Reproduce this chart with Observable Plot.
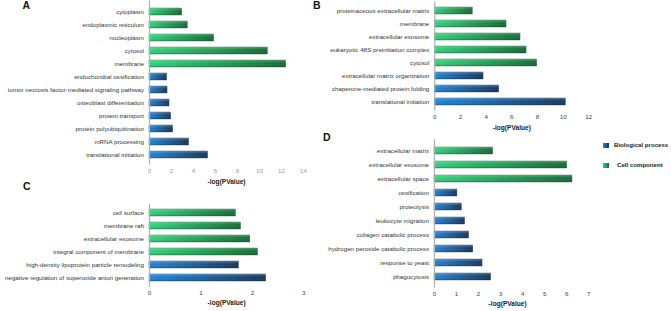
<!DOCTYPE html>
<html><head><meta charset="utf-8">
<script src="https://cdn.jsdelivr.net/npm/d3@7"></script>
<script src="https://cdn.jsdelivr.net/npm/@observablehq/plot@0.6"></script>
<style>
body{margin:0;background:#fff;font-family:"Liberation Sans",Arial,sans-serif;}
#root{position:relative;width:671px;height:311px;overflow:hidden;background:#fff;}
.panel{position:absolute;}
.letter{position:absolute;font-weight:bold;font-size:10.5px;line-height:1;color:#111;}
.leg{position:absolute;font-weight:bold;font-size:6.1px;line-height:8px;color:#222;white-space:nowrap;}
.sw{position:absolute;width:5.5px;height:5.5px;}
</style></head><body><div id="root"></div>
<script>
// ---------- data ----------
const aTerms = ["cytoplasm","endoplasmic reticulum","nucleoplasm","cytosol","membrane","endochondral ossification","tumor necrosis factor-mediated signaling pathway","osteoblast differentiation","protein transport","protein polyubiquitination","mRNA processing","translational initiation"];
const aValues = [2.97, 3.48, 5.88, 10.76, 12.42, 1.6, 1.64, 1.82, 1.97, 2.15, 3.6, 5.33];
const aTypes = ["CC","CC","CC","CC","CC","BP","BP","BP","BP","BP","BP","BP"];
const aTicks = [0,2,4,6,8,10,12,14];

const bTerms = ["proteinaceous extracellular matrix","membrane","extracellular exosome","eukaryotic 48S preinitiation complex","cytosol","extracellular matrix organization","chaperone-mediated protein folding","translational initiation"];
const bValues = [2.96, 5.59, 6.68, 7.15, 7.98, 3.8, 5.02, 10.21];
const bTypes = ["CC","CC","CC","CC","CC","BP","BP","BP"];
const bTicks = [0,2,4,6,8,10,12];

const cTerms = ["cell surface","membrane raft","extracellular exosome","integral component of membrane","high-density lipoprotein particle remodeling","negative regulation of superoxide anion generation"];
const cValues = [1.68, 1.78, 1.96, 2.11, 1.74, 2.27];
const cTypes = ["CC","CC","CC","CC","BP","BP"];
const cTicks = [0,1,2,3];

const dTerms = ["extracellular matrix","extracellular exosome","extracellular space","ossification","proteolysis","leukocyte migration","collagen catabolic process","hydrogen peroxide catabolic process","response to yeast","phagocytosis"];
const dValues = [2.66, 6.02, 6.26, 1.04, 1.24, 1.39, 1.57, 1.76, 2.18, 2.57];
const dTypes = ["CC","CC","CC","BP","BP","BP","BP","BP","BP","BP"];
const dTicks = [0,1,2,3,4,5,6,7];

const legendLabels = {BP: "Biological process", CC: "Cell component"};
const axisLabel = "-log(PValue)";

// ---------- drawing ----------
const root = document.getElementById("root");

function defsMark(id) {
  return () => {
    const defs = d3.create("svg:defs");
    const g1 = defs.append("linearGradient").attr("id", "bp-" + id).attr("x1", 0).attr("x2", 1).attr("y1", 0).attr("y2", 0);
    g1.append("stop").attr("offset", "0%").attr("stop-color", "#1f84da");
    g1.append("stop").attr("offset", "100%").attr("stop-color", "#16365a");
    const g2 = defs.append("linearGradient").attr("id", "cc-" + id).attr("x1", 0).attr("x2", 1).attr("y1", 0).attr("y2", 0);
    g2.append("stop").attr("offset", "0%").attr("stop-color", "#2fd47c");
    g2.append("stop").attr("offset", "100%").attr("stop-color", "#166a34");
    const g3 = defs.append("linearGradient").attr("id", "sh-" + id).attr("x1", 0).attr("x2", 0).attr("y1", 0).attr("y2", 1);
    g3.append("stop").attr("offset", "0%").attr("stop-color", "#fff").attr("stop-opacity", 0.25);
    g3.append("stop").attr("offset", "45%").attr("stop-color", "#fff").attr("stop-opacity", 0);
    g3.append("stop").attr("offset", "100%").attr("stop-color", "#000").attr("stop-opacity", 0.18);
    return defs.node();
  };
}

function panel(o) {
  const data = o.terms.map((t, i) => ({term: t, value: o.values[i], type: o.types[i]}));
  const chart = Plot.plot({
    width: o.width, height: o.height,
    marginLeft: o.ml, marginRight: o.mr, marginTop: o.mt, marginBottom: o.mb,
    style: {background: "transparent", overflow: "visible", fontFamily: "'Liberation Sans', Arial, sans-serif", fontSize: "6.2px", color: "#333"},
    x: {domain: [0, o.max], label: null},
    y: {domain: o.terms, paddingInner: 0.48, paddingOuter: 0.24, label: null},
    marks: [
      defsMark(o.id),
      Plot.barX(data.filter(d => d.type === "BP"), {x: "value", y: "term", fill: `url(#bp-${o.id})`, stroke: "#24496b", strokeWidth: 0.4}),
      Plot.barX(data.filter(d => d.type === "CC"), {x: "value", y: "term", fill: `url(#cc-${o.id})`, stroke: "#1f6b3b", strokeWidth: 0.4}),
      Plot.barX(data, {x: "value", y: "term", fill: `url(#sh-${o.id})`}),
      Plot.ruleX([0], {stroke: "#b0b0b0", strokeWidth: 1.2}),
      Plot.axisY({tickSize: 0, tickPadding: 5.5, fontSize: 6.2, fill: "#333"}),
      Plot.axisX({ticks: o.ticks, tickSize: 0, tickPadding: 3.5, fontSize: 6.2, fill: o.tickColor, tickFormat: d3.format("d"), label: null}),
      Plot.text([axisLabel], {frameAnchor: "bottom", dy: o.labelDy, dx: o.labelDx || 0, fontWeight: "bold", fontSize: 6.6, fill: "#222"})
    ]
  });
  chart.classList.add("panel");
  chart.style.left = o.left + "px";
  chart.style.top = o.top + "px";
  chart.style.maxWidth = "none";
  root.appendChild(chart);
}

// Panel A
panel({id: "a", terms: aTerms, values: aValues, types: aTypes, max: 14, ticks: aTicks,
  left: 0, top: 0, width: 320, height: 190, ml: 149, mr: 17, mt: 0.5, mb: 190 - 164.5,
  tickColor: "#999", labelDy: 18.5});
// Panel B
panel({id: "b", terms: bTerms, values: bValues, types: bTypes, max: 12, ticks: bTicks,
  left: 320, top: 0, width: 280, height: 140, ml: 114.3, mr: 11.7, mt: 1.5, mb: 140 - 110.8,
  tickColor: "#444", labelDy: 18.5});
// Panel C
panel({id: "c", terms: cTerms, values: cValues, types: cTypes, max: 3, ticks: cTicks,
  left: 0, top: 190, width: 320, height: 121, ml: 149, mr: 16.7, mt: 13.8, mb: 311 - 286.9,
  tickColor: "#444", labelDy: 18});
// Panel D
panel({id: "d", terms: dTerms, values: dValues, types: dTypes, max: 7, ticks: dTicks,
  left: 320, top: 135, width: 280, height: 176, ml: 114, mr: 11.7, mt: 4.3, mb: 311 - 287.4,
  tickColor: "#444", labelDy: 18.3, labelDx: -4});

// Panel letters
[["A", 22.5, 0], ["B", 313, 0], ["C", 23, 180.5], ["D", 323, 131.5]].forEach(([t, x, y]) => {
  const el = document.createElement("div");
  el.className = "letter"; el.textContent = t;
  el.style.left = x + "px"; el.style.top = y + "px";
  root.appendChild(el);
});

// Legend
[["BP", 142.5, 614, "linear-gradient(90deg,#1f84da,#16365a)"], ["CC", 162.5, 617, "linear-gradient(90deg,#2fd47c,#166a34)"]].forEach(([k, y, tx, bg]) => {
  const sw = document.createElement("div");
  sw.className = "sw"; sw.style.left = "603px"; sw.style.top = y + "px"; sw.style.background = bg;
  root.appendChild(sw);
  const lb = document.createElement("div");
  lb.className = "leg"; lb.textContent = legendLabels[k];
  lb.style.left = tx + "px"; lb.style.top = (y + 2.75 - 4) + "px";
  root.appendChild(lb);
});
</script></body></html>
